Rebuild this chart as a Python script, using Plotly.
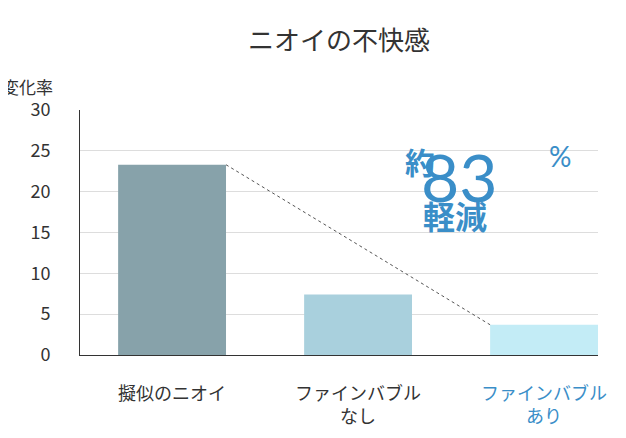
import plotly.graph_objects as go

categories = ["擬似のニオイ", "ファインバブル<br>なし", "ファインバブル<br>あり"]
values = [23.3, 7.4, 3.7]
bar_colors = ["#87a2aa", "#a9d0dd", "#c3ecf6"]
label_colors = ["#333333", "#333333", "#3a8ec8"]
yticks = [0, 5, 10, 15, 20, 25, 30]

BLUE = "#3a8ec8"
FONT = "Noto Sans CJK JP"
W = 0.58
xs = list(range(len(categories)))

fig = go.Figure()
fig.add_trace(go.Bar(x=xs, y=values, width=W, marker=dict(color=bar_colors, line=dict(width=0)),
                     hoverinfo="skip"))

# dashed guide from first bar top-right to last bar top-left
fig.add_shape(type="line", x0=xs[0] + W / 2, y0=values[0], x1=xs[-1] - W / 2, y1=values[-1],
              line=dict(color="#555555", width=1, dash="dot"), layer="above")

for x, cat, c in zip(xs, categories, label_colors):
    fig.add_annotation(x=x, y=0, yref="y", text=cat, showarrow=False, yanchor="top", yshift=-22,
                       font=dict(size=18, color=c, family=FONT))

fig.add_annotation(xref="paper", yref="paper", x=0.5, y=1.0, yshift=92, text="ニオイの不快感",
                   showarrow=False, font=dict(size=26, color="#333333", family=FONT))
fig.add_annotation(xref="paper", yref="paper", x=0, xshift=-80, xanchor="left", y=1.0, yshift=38,
                   text="変化率", showarrow=False, font=dict(size=17, color="#333333", family=FONT))
fig.add_annotation(xref="paper", yref="paper", x=0.656, y=0.89, text="<b>約</b>",
                   showarrow=False, font=dict(size=30, color=BLUE, family=FONT))
fig.add_annotation(xref="paper", yref="paper", x=0.81, y=0.9, text="83",
                   showarrow=False, font=dict(size=66, color=BLUE, family="Lato"))
fig.add_annotation(xref="paper", yref="paper", x=0.952, y=0.89, text="%",
                   showarrow=False, font=dict(size=28, color=BLUE, family="Lato"))
fig.add_annotation(xref="paper", yref="paper", x=0.79, y=0.673, text="<b>軽減</b>",
                   showarrow=False, font=dict(size=32, color=BLUE, family=FONT))

# page body adds an 8px offset; margins compensate
fig.update_layout(
    width=626, height=438,
    margin=dict(l=72, r=36, t=102, b=91),
    plot_bgcolor="white", paper_bgcolor="white",
    showlegend=False,
    xaxis=dict(range=[-0.495, 2.29], showticklabels=False, showgrid=False, zeroline=False,
               showline=True, linecolor="#333333", linewidth=1, fixedrange=True),
    yaxis=dict(range=[0, 30], tickvals=yticks, showgrid=True, gridcolor="#dddddd",
               zeroline=False, showline=True, linecolor="#333333", linewidth=1,
               ticks="", ticklabelstandoff=25,
               tickfont=dict(size=18, color="#333333", family=FONT)),
)

fig.write_html("out.html")
